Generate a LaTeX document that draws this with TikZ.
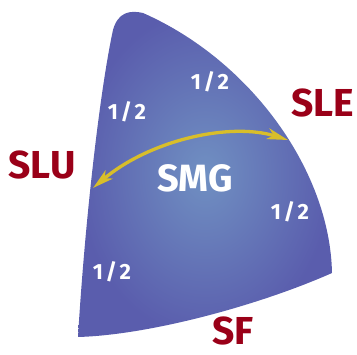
\documentclass[tikz,border=0pt]{standalone}
\usepackage{fontspec}
\setmainfont{Fira Sans}
\usetikzlibrary{arrows.meta}
\definecolor{Edge}{HTML}{5A5DAD}
\definecolor{Core}{HTML}{7090C2}
\definecolor{Wine}{HTML}{9A0018}
\definecolor{Gold}{HTML}{D8BE2A}
\tikzset{
  corner/.style={font=\bfseries\fontsize{39}{39}\selectfont,text=Wine,inner sep=0pt},
  half/.style={font=\bfseries\fontsize{22}{22}\selectfont,text=white,inner sep=0pt},
  centre/.style={half,font=\bfseries\fontsize{38}{38}\selectfont},
  swap/.style={{Stealth[length=21pt,width=11pt,inset=6pt]}-{Stealth[length=21pt,width=11pt,inset=6pt]},line width=3.3pt,draw=Gold}
}
\newcommand{\hf}{1\kern2.5pt/\kern2.5pt2}
\begin{document}
\begin{tikzpicture}[x=1pt,y=-1pt]
    \useasboundingbox (0,0) rectangle (357,355);
    % curved triangle
    \shade[inner color=Core,outer color=Edge] (78,337) .. controls (85,220) and (100,90) .. (113,30)
      .. controls (118,12) and (130,10) .. (143,13)
      .. controls (250,60) and (330,170) .. (332,273)
      .. controls (260,305) and (150,335) .. (78,337) -- cycle;
    \node[corner] (sle) at (323,103) {SLE};
    \node[corner] (slu) at (42,165) {SLU};
    \node[corner] (sf) at (233,331) {SF};
    \node[centre] (smg) at (195,178) {SMG};
    \node[half] (h1) at (210,82) {\hf};
    \node[half] (h2) at (127,112) {\hf};
    \node[half] (h3) at (290,212) {\hf};
    \node[half] (h4) at (112,272) {\hf};
    \coordinate (ul) at (93,188); \coordinate (ur) at (288,140);
    \draw[swap] (ul) .. controls (150,140) and (230,122) .. (ur);
  \end{tikzpicture}
\end{document}
